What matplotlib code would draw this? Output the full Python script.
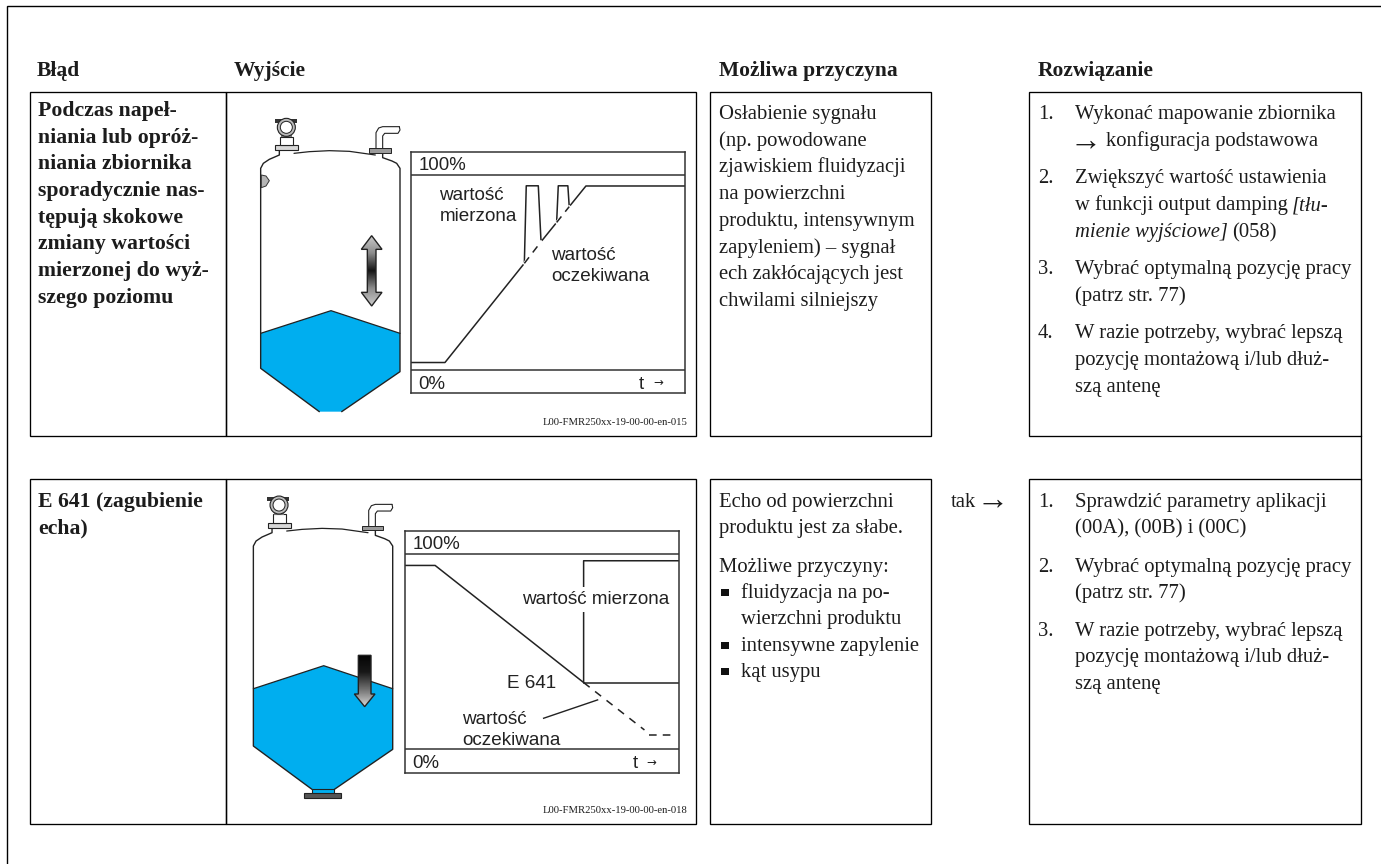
import matplotlib
matplotlib.use('Agg')
import matplotlib.pyplot as plt
import numpy as np
from matplotlib.patches import Polygon, Rectangle, Circle

W, H = 1381, 864
SERIF = 'Liberation Serif'
SANS = 'Liberation Sans'
INK = '#1c1c1c'
BLUE = '#00aeef'

headers = ['Błąd', 'Wyjście', 'Możliwa przyczyna', 'Rozwiązanie']
header_x = [37, 234, 719, 1038]

error_1 = ['Podczas napeł-', 'niania lub opróż-', 'niania zbiornika', 'sporadycznie nas-',
           'tępują skokowe', 'zmiany wartości', 'mierzonej do wyż-', 'szego poziomu']
error_2 = ['E 641 (zagubienie', 'echa)']

cause_1 = ['Osłabienie sygnału', '(np. powodowane', 'zjawiskiem fluidyzacji', 'na powierzchni',
           'produktu, intensywnym', 'zapyleniem) – sygnał', 'ech zakłócających jest', 'chwilami silniejszy']
cause_2 = ['Echo od powierzchni', 'produktu jest za słabe.', 'Możliwe przyczyny:']
cause_2_y = [507, 533, 572]
bullets = ['fluidyzacja na po-', 'wierzchni produktu', 'intensywne zapylenie', 'kąt usypu']
bullets_y = [598, 624, 651, 677]
bullet_marks_y = [592, 645, 671]

solution_1 = ['Wykonać mapowanie zbiornika', 'Zwiększyć wartość ustawienia',
              'Wybrać optymalną pozycję pracy',
              '(patrz str. 77)', 'W razie potrzeby, wybrać lepszą', 'pozycję montażową i/lub dłuż-', 'szą antenę']
solution_1_y = [119, 183, 274, 301, 338, 365, 392]
solution_1_num = ['1.', '2.', '3.', '4.']
solution_1_num_y = [119, 183, 274, 338]

solution_2 = ['Sprawdzić parametry aplikacji', '(00A), (00B) i (00C)', 'Wybrać optymalną pozycję pracy',
              '(patrz str. 77)', 'W razie potrzeby, wybrać lepszą', 'pozycję montażową i/lub dłuż-', 'szą antenę']
solution_2_y = [507, 533, 572, 598, 636, 662, 689]
solution_2_num = ['1.', '2.', '3.']
solution_2_num_y = [507, 572, 636]

# mini charts, t and level in percent
meas1_t = [0, 12.3, 41.3, 42.0, 46.4, 47.4, 53.1, 53.7, 57.2, 57.7, 63.8, 100]
meas1_y = [3.8, 3.8, 54.7, 94.5, 94.5, 65.8, 75.7, 94.5, 94.5, 83.8, 94.4, 94.4]
exp1a_t = [41.3, 47.4]
exp1a_y = [54.7, 65.8]
exp1b_t = [53.1, 57.7]
exp1b_y = [75.7, 83.8]

meas2_t = [0, 11.1, 65.3, 65.3, 100]
meas2_y = [94.2, 94.2, 34.2, 96.6, 96.6]
hold2_t = [65.3, 100]
hold2_y = [34.2, 34.2]
exp2_t = [65.3, 87.5]
exp2_y = [34.2, 9.9]
exp2b_t = [89.3, 97.8]
exp2b_y = [7.4, 7.4]

# tank drawing, in 3x units of the first panel
wall_left = [(160, 180), (160, 195), (130, 208), (112, 220), (104, 235), (104, 835), (280, 965)]
wall_right = [(347, 965), (522, 845), (522, 235), (512, 220), (498, 213), (470, 203), (470, 188)]
dome = [(204, 190), (250, 185), (310, 182), (370, 184), (448, 195)]
liquid_1 = [(104, 730), (315, 662), (522, 730), (522, 845), (347, 965), (280, 965), (104, 835)]
liquid_2 = [(104, 663), (315, 594), (522, 663), (522, 845), (347, 965), (280, 965), (104, 835)]
pipe_a = [(450, 175), (450, 128), (458, 114), (470, 110), (520, 110)]
pipe_b = [(470, 175), (470, 138), (476, 130), (516, 130), (522, 120), (520, 110)]


fig = plt.figure(figsize=(W / 100, H / 100), dpi=100)
ax = fig.add_axes([0, 0, 1, 1])
ax.set_xlim(0, W)
ax.set_ylim(H, 0)
ax.axis('off')


def box(x0, y0, x1, y1):
    ax.add_patch(Rectangle((x0, y0), x1 - x0, y1 - y0, fill=False, ec='black', lw=0.95, zorder=1))


def txt(x, y, s, bold=False, italic=False, size=14.9, **kw):
    return ax.text(x, y, s, family=SERIF, fontsize=size, color=INK, va='baseline', ha='left',
                   fontweight='bold' if bold else 'normal', fontstyle='italic' if italic else 'normal', **kw)


def right_of(t):
    # data x of the right end of a text
    fig.canvas.draw()
    return t.get_window_extent().x1


def tx(ox, oy, pts):
    return [(ox + p[0] / 3, oy + p[1] / 3) for p in pts]


def poly(ox, oy, pts, **kw):
    ax.add_patch(Polygon(tx(ox, oy, pts), closed=True, **kw))


def line(ox, oy, pts, lw=1.0, color='#222222'):
    p = np.array(tx(ox, oy, pts))
    ax.plot(p[:, 0], p[:, 1], color=color, lw=lw, solid_capstyle='round', zorder=4)


def gradient(ox, oy, pts, stops):
    p = np.array(tx(ox, oy, pts))
    g = np.interp(np.linspace(0, 1, 128), np.linspace(0, 1, len(stops)), stops).reshape(-1, 1)
    ext = (p[:, 0].min(), p[:, 0].max(), p[:, 1].max(), p[:, 1].min())
    im = ax.imshow(g, extent=ext, cmap='gray', vmin=0, vmax=1, aspect='auto', zorder=5)
    clip = Polygon(p, closed=True, transform=ax.transData, fill=False, ec='#222222', lw=1.0, zorder=6)
    ax.add_patch(clip)
    im.set_clip_path(clip)
    ax.set_xlim(0, W)
    ax.set_ylim(H, 0)


def tank(ox, oy, liquid, flange_bottom):
    poly(ox, oy, liquid, fc=BLUE, ec='none', zorder=2)
    line(ox, oy, wall_left)
    line(ox, oy, wall_right)
    line(ox, oy, dome, lw=0.9)
    line(ox, oy, [liquid[0], liquid[1], liquid[2]], lw=0.9)
    # instrument
    poly(ox, oy, [(148, 165), (216, 165), (216, 180), (148, 180)], fc='#d8d8d8', ec='#222222', lw=0.8, zorder=4)
    poly(ox, oy, [(162, 140), (202, 140), (202, 165), (162, 165)], fc='white', ec='#222222', lw=0.8, zorder=4)
    poly(ox, oy, [(146, 88), (212, 88), (212, 100), (146, 100)], fc='#333333', ec='none', zorder=4)
    cx, cy = tx(ox, oy, [(181, 112)])[0]
    ax.add_patch(Circle((cx, cy), 9, fc='#bbbbbb', ec='#222222', lw=0.8, zorder=5))
    ax.add_patch(Circle((cx, cy), 6, fc='white', ec='#222222', lw=0.7, zorder=6))
    poly(ox, oy, [(165, 134), (197, 134), (197, 142), (165, 142)], fc='#777777', ec='none', zorder=4)
    # stub with pipe
    line(ox, oy, pipe_a, lw=0.8)
    line(ox, oy, pipe_b, lw=0.8)
    poly(ox, oy, [(430, 175), (494, 175), (494, 188), (430, 188)], fc='#9a9a9a', ec='#222222', lw=0.7, zorder=4)
    if flange_bottom:
        poly(ox, oy, [(280, 965), (280, 978), (347, 978), (347, 965)], fc=BLUE, ec='#222222', lw=0.8, zorder=3)
        poly(ox, oy, [(257, 976), (367, 976), (367, 991), (257, 991)], fc='#555555', ec='#222222', lw=0.8, zorder=4)


def chart(x0, y0, x1, y1):
    c = fig.add_axes([x0 / W, 1 - y1 / H, (x1 - x0) / W, (y1 - y0) / H])
    c.set_xlim(0, 100)
    c.set_ylim(-12, 112)
    c.set_xticks([])
    c.set_yticks([])
    for s in c.spines.values():
        s.set_linewidth(1.1)
        s.set_color('#333333')
    c.axhline(100, color='#333333', lw=1.1)
    c.axhline(0, color='#333333', lw=1.1)
    c.text(2.8, 102.6, '100%', family=SANS, fontsize=13.4, color='#222222')
    c.text(2.6, -9.7, '0%', family=SANS, fontsize=13.4, color='#222222')
    c.text(83.2, -9.7, 't', family=SANS, fontsize=13.4, color='#222222')
    c.text(88.3, -8.3, '→', family='DejaVu Sans', fontsize=8.5, color='#222222')
    return c


# page frame
ax.plot([7.3, 7.3, W], [H, 6.3, 6.3], color='black', lw=1.0, solid_joinstyle='miter')
ax.plot([1361.5, 1361.5], [436, 479], color='black', lw=0.95)

for x, s in zip(header_x, headers):
    txt(x, 76, s, bold=True, size=15.5)

# table cells
for y0, y1 in [(92, 436), (479, 824)]:
    box(30, y0, 226, y1)
    box(226, y0, 696, y1)
    box(710, y0, 931, y1)
    box(1029, y0, 1361, y1)

for i, s in enumerate(error_1):
    txt(38, 116 + i * 26.7, s, bold=True, size=15.7)
for i, s in enumerate(error_2):
    txt(38, 507 + i * 26.7, s, bold=True, size=15.7)
for i, s in enumerate(cause_1):
    txt(719, 119 + i * 26.7, s)
for y, s in zip(cause_2_y, cause_2):
    txt(719, y, s)
for y, s in zip(bullets_y, bullets):
    txt(741, y, s)
for y in bullet_marks_y:
    ax.add_patch(Rectangle((721.5, y - 3), 7.5, 6.5, fc='#111111', ec='none'))

txt(951, 507, 'tak')
txt(977, 509, '→', size=23)

for y, s in zip(solution_1_y, solution_1):
    txt(1075, y, s)
txt(1070, 150, '→', size=23)
txt(1106, 146, 'konfiguracja podstawowa')
t = txt(1075, 210, 'w funkcji output damping')
txt(right_of(t) + 4, 210, '[tłu-', italic=True)
t = txt(1075, 237, 'mienie wyjściowe]', italic=True)
txt(right_of(t) + 4, 237, '(058)')
for y, s in zip(solution_1_num_y, solution_1_num):
    txt(1038, y, s)
for y, s in zip(solution_2_y, solution_2):
    txt(1075, y, s)
for y, s in zip(solution_2_num_y, solution_2_num):
    txt(1038, y, s)

txt(687.5, 425, 'L00-FMR250xx-19-00-00-en-015', size=7.7).set_ha('right')
txt(687.5, 813, 'L00-FMR250xx-19-00-00-en-018', size=7.7).set_ha('right')

# first diagram
tank(226, 90, liquid_1, False)
poly(226, 90, [(106, 255), (120, 258), (130, 272), (120, 288), (106, 293)], fc='#b5b5b5', ec='#333333', lw=0.7, zorder=4)
gradient(226, 90, [(437, 437), (468, 478), (450, 478), (450, 607), (468, 607), (437, 648),
                   (406, 607), (424, 607), (424, 478), (406, 478)], [0.8, 0.55, 0.08, 0.55, 0.8])

c1 = chart(411.3, 151.7, 685, 393.3)
c1.plot(meas1_t, meas1_y, color='#222222', lw=1.1)
c1.plot(exp1a_t, exp1a_y, color='white', lw=2.0, zorder=3)
c1.plot(exp1b_t, exp1b_y, color='white', lw=2.0, zorder=3)
c1.plot(exp1a_t, exp1a_y, color='#222222', lw=1.1, ls=(0, (5, 4)), zorder=4)
c1.plot(exp1b_t, exp1b_y, color='#222222', lw=1.1, ls=(0, (5, 4)), zorder=4)
c1.text(10.3, 87.2, 'wartość', family=SANS, fontsize=13.6, color='#222222')
c1.text(10.3, 76.4, 'mierzona', family=SANS, fontsize=13.6, color='#222222')
c1.text(51.2, 56.4, 'wartość', family=SANS, fontsize=13.6, color='#222222')
c1.text(51.2, 45.8, 'oczekiwana', family=SANS, fontsize=13.6, color='#222222')

# second diagram
tank(218.7, 467.7, liquid_2, True)
gradient(226, 478, [(397, 532), (435, 532), (435, 648), (447, 648), (416, 686), (385, 648), (397, 648)],
         [0.02, 0.1, 0.45, 0.85])

c2 = chart(404.7, 530.7, 678.7, 772.7)
c2.plot(meas2_t, meas2_y, color='#222222', lw=1.1)
c2.plot(hold2_t, hold2_y, color='#222222', lw=1.1)
c2.plot(exp2_t, exp2_y, color='#222222', lw=1.1, ls=(0, (5, 4.5)))
c2.plot(exp2b_t, exp2b_y, color='#222222', lw=1.1, ls=(0, (5, 4)))
c2.plot([50.7, 70.4], [15.9, 25.3], color='#222222', lw=1.0)
c2.text(43, 74.5, 'wartość mierzona', family=SANS, fontsize=13.6, color='#222222',
        bbox=dict(fc='white', ec='none', pad=3), zorder=5)
c2.text(37.5, 31.3, 'E 641', family=SANS, fontsize=13.6, color='#222222')
c2.text(21, 12.8, 'wartość', family=SANS, fontsize=13.6, color='#222222')
c2.text(21, 2.2, 'oczekiwana', family=SANS, fontsize=13.6, color='#222222')

fig.savefig('out.png', dpi=100)
